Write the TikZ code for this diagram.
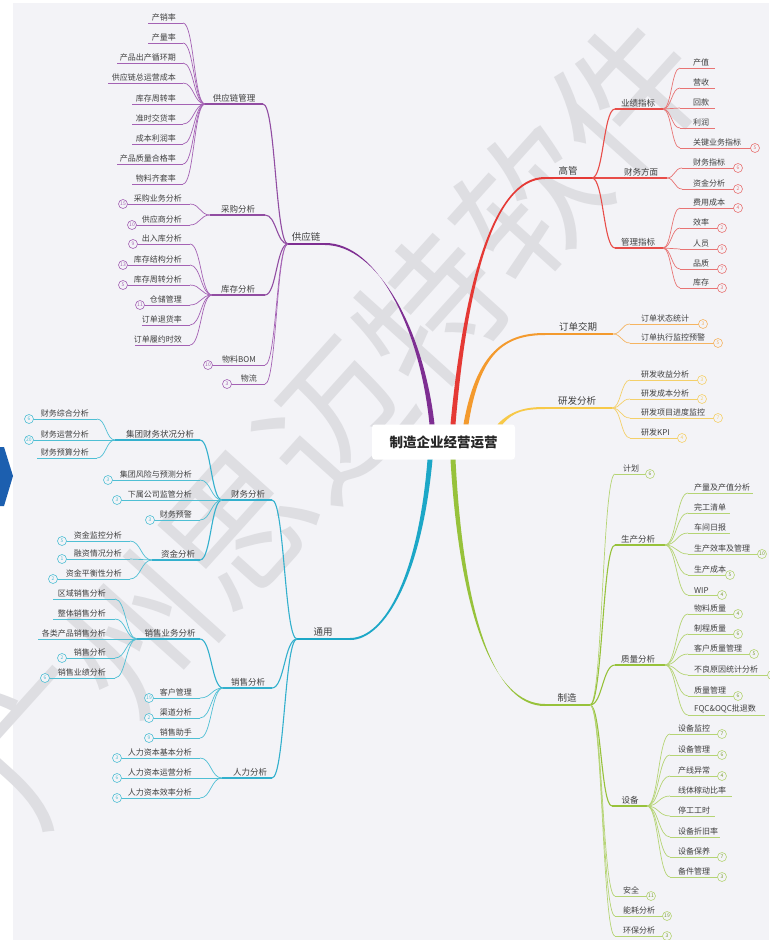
\documentclass[tikz,border=0pt]{standalone}
\usepackage{fontspec}
\newfontfamily\cjk{Noto Sans CJK SC}
\usetikzlibrary{calc}
\definecolor{bg}{HTML}{F3F3F7}
\definecolor{txt}{HTML}{404040}
\definecolor{wm}{HTML}{DEDEE2}
\definecolor{chev}{HTML}{1C5FAF}
\definecolor{pur}{HTML}{7E2E92}\definecolor{purL}{HTML}{A462B4}
\definecolor{redA}{HTML}{E53935}\definecolor{redL}{HTML}{E87474}
\definecolor{org}{HTML}{F39A2E}\definecolor{orgL}{HTML}{F5B461}
\definecolor{yel}{HTML}{F7C948}\definecolor{yelL}{HTML}{F4D06A}
\definecolor{cya}{HTML}{1CA7C7}\definecolor{cyaL}{HTML}{4FBFD4}
\definecolor{grn}{HTML}{97C23B}\definecolor{grnL}{HTML}{B5D474}
\tikzset{
  lt/.style={font=\cjk\fontsize{8}{9}\selectfont, text=txt, inner xsep=1pt, inner ysep=1.5pt},
  mt/.style={font=\cjk\fontsize{8.5}{10}\selectfont, text=txt, inner xsep=1pt, inner ysep=1.8pt},
  t1/.style={font=\cjk\fontsize{9.5}{11}\selectfont, text=txt, inner xsep=1pt, inner ysep=2.5pt},
  rootbox/.style={fill=white, rounded corners=3pt, minimum width=143pt, minimum height=35pt,
    font=\cjk\bfseries\fontsize{13.5}{15}\selectfont, text=black!85},
  ll/.style={draw=gray, line width=0.7pt},
  ml/.style={draw=gray, line width=1.1pt},
  bdg/.style={circle, draw=gray, fill=bg, line width=0.6pt, minimum size=9pt, inner sep=0pt,
    font=\cjk\fontsize{5}{5}\selectfont},
}
% curve with horizontal tangents
\newcommand\conn[3]{\draw[#1] (#2) .. controls ($(#2)!0.5!(#2 -| #3)$) and ($(#3)!0.5!(#3 -| #2)$) .. (#3);}
% tapered main branch: colour, start, c1, c2, end
\newcommand\branch[5]{\fill[#1] ($(#2)+(-2.5,0)$) .. controls ($(#3)+(-1.8,0)$) and ($(#4)+(0,-1.2)$) .. ($(#5)+(0,-1)$) -- ($(#5)+(0,1)$) .. controls ($(#4)+(0,1.2)$) and ($(#3)+(1.8,0)$) .. ($(#2)+(2.5,0)$) -- cycle;}
\newcommand\bdgopt[2]{\if\relax\detokenize{#2}\relax\else\node[bdg] (#1b) at (#1f) {#2};\fi}
% left leaf: name, text, y, x text right, x near, x far, junction, badge
\newcommand\Lleaf[8]{%
  \node[lt,anchor=south east] (#1) at (#4,#3) {#2};
  \coordinate (#1n) at (#5,#3);
  \coordinate (#1f) at (#6,#3);
  \conn{ll}{#7}{#1n}
  \draw[ll] (#1n) -- (#1f);
  \bdgopt{#1}{#8}}
% right leaf: name, text, y, x text left, x near, x far, junction, badge
\newcommand\Rleaf[8]{%
  \node[lt,anchor=south west] (#1) at (#4,#3) {#2};
  \coordinate (#1n) at (#5,#3);
  \coordinate (#1f) at (#6,#3);
  \conn{ll}{#7}{#1n}
  \draw[ll] (#1n) -- (#1f);
  \bdgopt{#1}{#8}}
% mid topic: name, text, y, x junction, x near, parent junction, label x
\newcommand\Mid[7]{%
  \coordinate (#1) at (#4,#3);
  \coordinate (#1n) at (#5,#3);
  \node[mt,anchor=south] (#1t) at (#7,#3) {#2};
  \conn{ml}{#6}{#1n}
  \draw[ml] (#1n) -- (#1);}
\begin{document}
\begin{tikzpicture}[x=1pt,y=-1pt]
\useasboundingbox (0,0) rectangle (769,940);
\fill[white] (0,0) rectangle (769,940);
\fill[bg] (13,3) rectangle (769,940);
\node[rotate=48, text=wm, font=\cjk\fontsize{145}{145}\selectfont, inner sep=0pt] (wmk) at (335,420) {广州思迈特软件};
\fill[chev] (0,447) -- (4,447) -- (13,476) -- (4,506) -- (0,506) -- cycle;

\node[rootbox] (root) at (443.5,442) {制造企业经营运营};

% ---------------- supply chain (purple)
\begin{scope}[ll/.style={draw=purL, line width=0.7pt}, ml/.style={draw=pur!85, line width=1.1pt},
  bdg/.style={circle, draw=purL, fill=bg, line width=0.6pt, minimum size=9pt, inner sep=0pt, text=purL, font=\cjk\fontsize{5}{5}\selectfont}]
\coordinate (cpur) at ($(root.north)+(-11.5,0)$);
\coordinate (gyl) at (288,244);
\coordinate (gyln) at (325,244);
\coordinate (pur1) at (422,330);
\coordinate (pur2) at (378,244);
\branch{pur}{cpur}{pur1}{pur2}{gyln}
\draw[pur, line width=2pt] (gyln) -- (gyl);
\node[t1,anchor=south] (gylt) at (306,244) {供应链};
\Mid{scm}{供应链管理}{104}{205}{263}{gyl}{234}
\Mid{cg}{采购分析}{215}{210}{265}{gyl}{238}
\Mid{kc}{库存分析}{295}{212}{265}{gyl}{238}
\Lleaf{bom}{物料BOM}{365}{257}{265}{208}{gyl}{10}
\Lleaf{wl}{物流}{384}{258}{265}{227}{gyl}{3}
\Lleaf{cxl}{产销率}{23}{177}{183}{148}{scm}{}
\Lleaf{clv}{产量率}{43}{177}{183}{148}{scm}{}
\Lleaf{cpzq}{产品出产循环期}{63}{177}{183}{117}{scm}{}
\Lleaf{gyzcb}{供应链总运营成本}{83}{177}{183}{108}{scm}{}
\Lleaf{kczz}{库存周转率}{104}{177}{183}{132}{scm}{}
\Lleaf{zsjh}{准时交货率}{124}{177}{183}{132}{scm}{}
\Lleaf{cblr}{成本利润率}{144}{177}{183}{132}{scm}{}
\Lleaf{cphg}{产品质量合格率}{164}{177}{183}{117}{scm}{}
\Lleaf{wlqt}{物料齐套率}{184}{177}{183}{132}{scm}{}
\Lleaf{cgyw}{采购业务分析}{204}{183}{190}{123}{cg}{15}
\Lleaf{gys}{供应商分析}{225}{183}{190}{132}{cg}{10}
\Lleaf{crk}{出入库分析}{244}{183}{190}{133}{kc}{9}
\Lleaf{kcjg}{库存结构分析}{265}{183}{190}{123}{kc}{13}
\Lleaf{kczzfx}{库存周转分析}{285}{183}{190}{123}{kc}{5}
\Lleaf{ccgl}{仓储管理}{305}{183}{190}{140}{kc}{11}
\Lleaf{ddth}{订单退货率}{325}{183}{190}{142}{kc}{}
\Lleaf{ddly}{订单履约时效}{345}{183}{190}{135}{kc}{}
\end{scope}

% ---------------- general (cyan)
\begin{scope}[ll/.style={draw=cyaL, line width=0.7pt}, ml/.style={draw=cya!90, line width=1.1pt},
  bdg/.style={circle, draw=cyaL, fill=bg, line width=0.6pt, minimum size=9pt, inner sep=0pt, text=cyaL, font=\cjk\fontsize{5}{5}\selectfont}]
\coordinate (ccya) at ($(root.south)+(-13.5,0)$);
\coordinate (ty) at (297,639);
\coordinate (tyn) at (350,639);
\coordinate (cya1) at (420,575);
\coordinate (cya2) at (385,639);
\branch{cya}{ccya}{cya1}{cya2}{tyn}
\draw[cya, line width=2pt] (tyn) -- (ty);
\node[t1,anchor=south] (tyt) at (323,639) {通用};
\Mid{cw}{财务分析}{500}{222}{272}{ty}{248}
\Mid{xs}{销售分析}{688}{223}{272}{ty}{248}
\Mid{rl}{人力分析}{778}{222}{272}{ty}{250}
\Mid{jt}{集团财务状况分析}{440}{115}{200}{cw}{160}
\Mid{zj}{资金分析}{560}{152}{200}{cw}{178}
\Lleaf{fx}{集团风险与预测分析}{480}{193}{200}{108}{cw}{3}
\Lleaf{xsgs}{下属公司监管分析}{500}{193}{200}{117}{cw}{3}
\Lleaf{cwyj}{财务预警}{520}{193}{200}{150}{cw}{3}
\Lleaf{cwzh}{财务综合分析}{419}{90}{97}{29}{jt}{6}
\Lleaf{cwyy}{财务运营分析}{440}{90}{97}{29}{jt}{20}
\Lleaf{cwys}{财务预算分析}{458}{90}{97}{37}{jt}{}
\Lleaf{zjjk}{资金监控分析}{541}{123}{130}{62}{zj}{5}
\Lleaf{rzqk}{融资情况分析}{559}{123}{130}{62}{zj}{1}
\Lleaf{zjph}{资金平衡性分析}{579}{123}{130}{53}{zj}{2}
\Mid{xsyw}{销售业务分析}{639}{137}{200}{xs}{170}
\Lleaf{khgl}{客户管理}{698}{193}{200}{149}{xs}{19}
\Lleaf{qdfx}{渠道分析}{718}{193}{200}{149}{xs}{2}
\Lleaf{xszs}{销售助手}{738}{193}{200}{149}{xs}{9}
\Lleaf{qyxs}{区域销售分析}{599}{107}{115}{53}{xsyw}{}
\Lleaf{ztxs}{整体销售分析}{619}{107}{115}{53}{xsyw}{}
\Lleaf{glcp}{各类产品销售分析}{639}{107}{115}{38}{xsyw}{}
\Lleaf{xsfx}{销售分析}{658}{107}{115}{62}{xsyw}{2}
\Lleaf{xsyj}{销售业绩分析}{678}{107}{115}{45}{xsyw}{6}
\Lleaf{rla}{人力资本基本分析}{758}{193}{200}{117}{rl}{3}
\Lleaf{rlb}{人力资本运营分析}{778}{193}{200}{117}{rl}{6}
\Lleaf{rlc}{人力资本效率分析}{798}{193}{200}{117}{rl}{6}
\end{scope}

% ---------------- top management (red)
\begin{scope}[ll/.style={draw=redL, line width=0.7pt}, ml/.style={draw=redA!90, line width=1.1pt},
  bdg/.style={circle, draw=redL, fill=bg, line width=0.6pt, minimum size=9pt, inner sep=0pt, text=redL, font=\cjk\fontsize{5}{5}\selectfont}]
\coordinate (cred) at ($(root.north)+(9.5,0)$);
\coordinate (gg) at (592,178);
\coordinate (ggn) at (545,178);
\coordinate (red1) at (465,290);
\coordinate (red2) at (492,178);
\branch{redA}{cred}{red1}{red2}{ggn}
\draw[redA, line width=2pt] (ggn) -- (gg);
\node[t1,anchor=south] (ggt) at (568,178) {高管};
\Mid{yj}{业绩指标}{109}{663}{615}{gg}{638}
\Mid{cwfm}{财务方面}{178}{667}{600}{gg}{641}
\Mid{glzb}{管理指标}{248}{663}{615}{gg}{638}
\Rleaf{cz}{产值}{68}{692}{680}{715}{yj}{}
\Rleaf{ys}{营收}{88}{692}{680}{715}{yj}{}
\Rleaf{hk}{回款}{108}{692}{680}{715}{yj}{}
\Rleaf{lr}{利润}{128}{692}{680}{715}{yj}{}
\Rleaf{gjyw}{关键业务指标}{148}{692}{680}{755}{yj}{5}
\Rleaf{cwzb}{财务指标}{168}{692}{682}{738}{cwfm}{6}
\Rleaf{zjfx}{资金分析}{189}{692}{682}{738}{cwfm}{2}
\Rleaf{fycb}{费用成本}{208}{692}{680}{738}{glzb}{4}
\Rleaf{xl}{效率}{228}{692}{680}{722}{glzb}{2}
\Rleaf{ry}{人员}{249}{692}{680}{722}{glzb}{9}
\Rleaf{pz}{品质}{269}{692}{680}{722}{glzb}{7}
\Rleaf{kcun}{库存}{288}{692}{680}{722}{glzb}{3}
\end{scope}

% ---------------- order delivery (orange)
\begin{scope}[ll/.style={draw=orgL, line width=0.7pt},
  bdg/.style={circle, draw=orgL, fill=bg, line width=0.6pt, minimum size=9pt, inner sep=0pt, text=orgL, font=\cjk\fontsize{5}{5}\selectfont}]
\coordinate (corg) at ($(root.north)+(22.5,0)$);
\coordinate (dd) at (613,334);
\coordinate (ddn) at (545,334);
\coordinate (org1) at (478,352);
\coordinate (org2) at (505,334);
\branch{org}{corg}{org1}{org2}{ddn}
\draw[org, line width=2pt] (ddn) -- (dd);
\node[t1,anchor=south] (ddt) at (578,334) {订单交期};
\Rleaf{ddzt}{订单状态统计}{324}{640}{630}{703}{dd}{3}
\Rleaf{ddzx}{订单执行监控预警}{343}{640}{630}{718}{dd}{5}
\end{scope}

% ---------------- R&D (yellow)
\begin{scope}[ll/.style={draw=yelL, line width=0.7pt},
  bdg/.style={circle, draw=yelL, fill=bg, line width=0.6pt, minimum size=9pt, inner sep=0pt, text=yelL, font=\cjk\fontsize{5}{5}\selectfont}]
\coordinate (cyel) at ($(root.north)+(56.5,0)$);
\coordinate (yf) at (612,408);
\coordinate (yfn) at (545,408);
\coordinate (yel1) at (512,411);
\coordinate (yel2) at (525,408);
\branch{yel}{cyel}{yel1}{yel2}{yfn}
\draw[yel, line width=2pt] (yfn) -- (yf);
\node[t1,anchor=south] (yft) at (577,408) {研发分析};
\Rleaf{yfsy}{研发收益分析}{380}{640}{630}{702}{yf}{3}
\Rleaf{yfcb}{研发成本分析}{399}{640}{630}{702}{yf}{2}
\Rleaf{yfxm}{研发项目进度监控}{418}{640}{630}{718}{yf}{7}
\Rleaf{yfkpi}{研发KPI}{438}{640}{630}{682}{yf}{4}
\end{scope}

% ---------------- manufacturing (green)
\begin{scope}[ll/.style={draw=grnL, line width=0.7pt}, ml/.style={draw=grn, line width=1.1pt},
  bdg/.style={circle, draw=grnL, fill=bg, line width=0.6pt, minimum size=9pt, inner sep=0pt, text=grn!80!black, font=\cjk\fontsize{5}{5}\selectfont}]
\coordinate (cgrn) at ($(root.south)+(9.5,0)$);
\coordinate (zz) at (590,705);
\coordinate (zzn) at (545,705);
\coordinate (grn1) at (462,620);
\coordinate (grn2) at (495,705);
\branch{grn}{cgrn}{grn1}{grn2}{zzn}
\draw[grn, line width=2pt] (zzn) -- (zz);
\node[t1,anchor=south] (zzt) at (567,705) {制造};
\Rleaf{jh}{计划}{474}{622}{615}{650}{zz}{6}
\Mid{sc}{生产分析}{545}{665}{615}{zz}{638}
\Mid{zl}{质量分析}{665}{665}{615}{zz}{638}
\Mid{sb}{设备}{806}{647}{612}{zz}{630}
\Rleaf{aq}{安全}{896}{622}{615}{651}{zz}{11}
\Rleaf{nh}{能耗分析}{916}{622}{615}{667}{zz}{19}
\Rleaf{hb}{环保分析}{936}{622}{615}{667}{zz}{3}
\Rleaf{clcz}{产量及产值分析}{493}{693}{688}{753}{sc}{}
\Rleaf{wgqd}{完工清单}{513}{693}{688}{730}{sc}{}
\Rleaf{cjrb}{车间日报}{533}{693}{688}{730}{sc}{}
\Rleaf{scxl}{生产效率及管理}{554}{693}{688}{762}{sc}{10}
\Rleaf{sccb}{生产成本}{575}{693}{688}{730}{sc}{5}
\Rleaf{wip}{WIP}{595}{693}{688}{722}{sc}{4}
\Rleaf{wlzl}{物料质量}{614}{693}{688}{738}{zl}{4}
\Rleaf{zczl}{制程质量}{634}{693}{688}{738}{zl}{6}
\Rleaf{khzl}{客户质量管理}{654}{693}{688}{754}{zl}{5}
\Rleaf{blyy}{不良原因统计分析}{675}{693}{688}{772}{zl}{}
\node[bdg] (blyyb) at (blyyf) {};
\Rleaf{zlgl}{质量管理}{696}{693}{688}{738}{zl}{6}
\Rleaf{fqc}{FQC\&OQC批退数}{715}{693}{688}{765}{zl}{}
\Rleaf{sbjk}{设备监控}{734}{677}{670}{722}{sb}{7}
\Rleaf{sbgl}{设备管理}{755}{677}{670}{722}{sb}{6}
\Rleaf{cxyc}{产线异常}{776}{677}{670}{722}{sb}{4}
\Rleaf{xtjd}{线体稼动比率}{796}{677}{670}{732}{sb}{}
\Rleaf{tggs}{停工工时}{816}{677}{670}{715}{sb}{}
\Rleaf{sbzj}{设备折旧率}{837}{677}{670}{720}{sb}{}
\Rleaf{sbby}{设备保养}{857}{677}{670}{722}{sb}{7}
\Rleaf{bjgl}{备件管理}{877}{677}{670}{722}{sb}{3}
\end{scope}
\end{tikzpicture}
\end{document}
